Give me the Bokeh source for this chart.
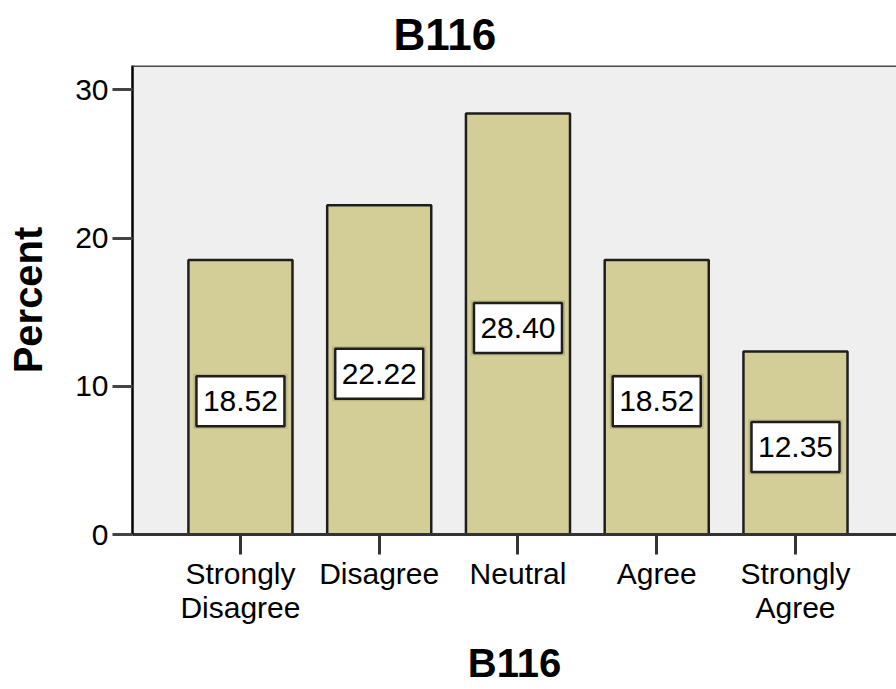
from bokeh.plotting import figure
from bokeh.models import FixedTicker, Range1d, Span, Title, ColumnDataSource
from bokeh.core.properties import value
from bokeh.embed import file_html
from bokeh.resources import INLINE

# Survey item B116: percentage of respondents per response category
categories = ["Strongly\nDisagree", "Disagree", "Neutral", "Agree", "Strongly\nAgree"]
percents = [18.52, 22.22, 28.40, 18.52, 12.35]
y_ticks = [0, 10, 20, 30]
title_text = "B116"

FONT = "Liberation Sans"
X_START, X_END = -0.778, 4.728
Y_MAX = 31.64
FRAME_H = 469
PX_Y = Y_MAX / FRAME_H   # data units per pixel

xs = list(range(len(categories)))

p = figure(
    width=896, height=689,
    output_backend="svg", toolbar_location=None,
    x_range=Range1d(X_START, X_END), y_range=Range1d(0, Y_MAX),
    min_border_left=132, min_border_right=0,
    min_border_top=40, min_border_bottom=155,
)
p.background_fill_color = "#EFEFEF"
p.border_fill_color = "white"
p.outline_line_color = None
p.grid.visible = False

# chart title
p.title = Title(text=title_text, align="left", offset=261,
                text_font=FONT, text_font_size="44px", text_font_style="bold",
                text_color="black", standoff=14, text_line_height=1.0)

# top edge of the plot area
p.add_layout(Span(location=Y_MAX, dimension="width",
                  line_color="#4a4a4a", line_width=3))

# bars
src = ColumnDataSource(dict(
    x=xs, top=percents,
    ly=[v / 2 - 4 * PX_Y for v in percents],
    txt=[f"{v:.2f}" for v in percents],
))
p.vbar(x="x", top="top", bottom=0, width=0.75, source=src,
       fill_color="#D3CE98", line_color="#1E1E1E", line_width=2.5)

# value boxes
p.rect(x="x", y="ly", width=94, height=55, width_units="screen", height_units="screen",
       source=src, fill_color="#B8B483", line_color=None)
p.rect(x="x", y="ly", width=88, height=50, width_units="screen", height_units="screen",
       source=src, fill_color="white", line_color="#1E1E1E", line_width=2.5)
p.text(x="x", y="ly", text="txt", source=src,
       text_font=value(FONT), text_font_size="30px", text_color="black",
       text_align="center", text_baseline="middle")

# x axis
xa = p.xaxis[0]
xa.ticker = FixedTicker(ticks=xs)
xa.major_label_overrides = {i: c for i, c in zip(xs, categories)}
xa.minor_tick_line_color = None
xa.major_tick_in = 0
xa.major_tick_out = 20
xa.major_tick_line_width = 3
xa.major_tick_line_color = "#333333"
xa.axis_line_color = "#333333"
xa.axis_line_width = 3
xa.major_label_standoff = 2
xa.major_label_text_font = FONT
xa.major_label_text_font_size = "30px"
xa.major_label_text_color = "black"
xa.major_label_text_line_height = 1.05
xa.axis_label = title_text
xa.axis_label_text_font = FONT
xa.axis_label_text_font_size = "40px"
xa.axis_label_text_font_style = "bold"
xa.axis_label_text_color = "black"
xa.axis_label_standoff = 14

# y axis
ya = p.yaxis[0]
ya.ticker = FixedTicker(ticks=y_ticks)
ya.minor_tick_line_color = None
ya.major_tick_in = 0
ya.major_tick_out = 20
ya.major_tick_line_width = 3
ya.major_tick_line_color = "#444444"
ya.axis_line_color = "black"
ya.axis_line_width = 2.5
ya.major_label_standoff = 4
ya.major_label_text_font = FONT
ya.major_label_text_font_size = "30px"
ya.major_label_text_color = "black"
ya.axis_label = "Percent"
ya.axis_label_text_font = FONT
ya.axis_label_text_font_size = "40px"
ya.axis_label_text_font_style = "bold"
ya.axis_label_text_color = "black"
ya.axis_label_standoff = 22

open("out.html", "w").write(file_html(p, INLINE))
